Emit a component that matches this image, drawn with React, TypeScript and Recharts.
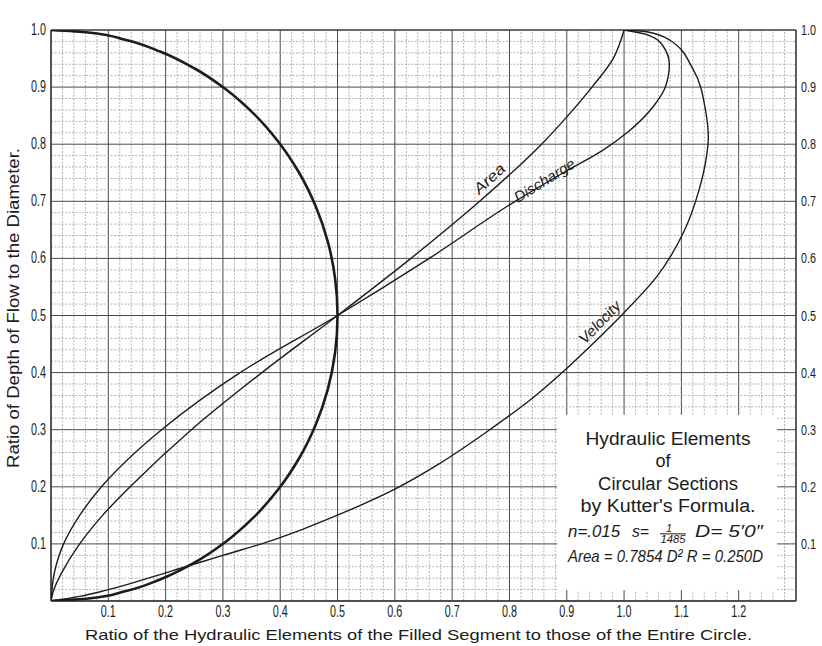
import React from "react";
import { ComposedChart, Line, XAxis, YAxis, ReferenceLine, ReferenceDot, Label } from "recharts";

// each point: [ratio of hydraulic element, ratio of depth]
const circle: [number, number][] = [
  [0, 0], [0.0653, 0.0043], [0.1294, 0.017], [0.1913, 0.0381], [0.25, 0.067],
  [0.3044, 0.1033], [0.3536, 0.1464], [0.3967, 0.1956], [0.433, 0.25],
  [0.4619, 0.3087], [0.483, 0.3706], [0.4957, 0.4347], [0.5, 0.5],
  [0.4957, 0.5653], [0.483, 0.6294], [0.4619, 0.6913], [0.433, 0.75],
  [0.3967, 0.8044], [0.3536, 0.8536], [0.3044, 0.8967], [0.25, 0.933],
  [0.1913, 0.9619], [0.1294, 0.983], [0.0653, 0.9957], [0, 1],
];

const area: [number, number][] = [
  [0, 0], [0.005, 0.02], [0.019, 0.05], [0.05, 0.1], [0.09, 0.15], [0.138, 0.2],
  [0.245, 0.3], [0.368, 0.4], [0.5, 0.5], [0.628, 0.6], [0.748, 0.7],
  [0.856, 0.8], [0.902, 0.85], [0.944, 0.9], [0.981, 0.95], [1.0, 1.0],
];

const discharge: [number, number][] = [
  [0, 0], [0.006, 0.05], [0.022, 0.1], [0.05, 0.15], [0.088, 0.2], [0.193, 0.3],
  [0.33, 0.4], [0.5, 0.5], [0.66, 0.6], [0.81, 0.7], [0.894, 0.75], [0.964, 0.79],
  [1.005, 0.82], [1.051, 0.866], [1.072, 0.9], [1.079, 0.94], [1.068, 0.972],
  [1.04, 0.992], [1.0, 1.0],
];

const velocity: [number, number][] = [
  [0, 0], [0.05, 0.008], [0.097, 0.019], [0.16, 0.037], [0.235, 0.06], [0.3, 0.08],
  [0.37, 0.101], [0.44, 0.126], [0.504, 0.152], [0.6, 0.196], [0.68, 0.242],
  [0.76, 0.296], [0.836, 0.352], [0.894, 0.402], [0.95, 0.455], [1.0, 0.505],
  [1.057, 0.568], [1.103, 0.644], [1.13, 0.717], [1.144, 0.78], [1.147, 0.81],
  [1.142, 0.86], [1.121, 0.93], [1.08, 0.982], [1.04, 0.997], [1.0, 1.0],
];

const xTicks = [0.1, 0.2, 0.3, 0.4, 0.5, 0.6, 0.7, 0.8, 0.9, 1.0, 1.1, 1.2];
const yTicks = [0.1, 0.2, 0.3, 0.4, 0.5, 0.6, 0.7, 0.8, 0.9, 1.0];

const curveLabels = [
  { text: "Area", x: 0.771, y: 0.733, angle: -43, len: 37 },
  { text: "Discharge", x: 0.866, y: 0.729, angle: -32, len: 69 },
  { text: "Velocity", x: 0.964, y: 0.482, angle: -46, len: 53 },
];

// white panel holding the title (data units)
const BOX = { x1: 0.883, x2: 1.267, y1: 0.019, y2: 0.326 };

const INK = "#1c1c1c";
const FONT = "'Liberation Sans', Arial, sans-serif";

// ordered from the top of the plot down so the curve is monotone in y
const toPts = (a: [number, number][]) => a.map(([r, d]) => ({ r, d })).reverse();

// grid every 0.02, heavier every 0.1
const gridX = Array.from({ length: 66 }, (_, i) => i);
const gridY = Array.from({ length: 51 }, (_, i) => i);

function vSegs(v: number) {
  if (v > BOX.x1 && v < BOX.x2) return [[0, BOX.y1], [BOX.y2, 1]];
  return [[0, 1]];
}
function hSegs(v: number) {
  if (v > BOX.y1 && v < BOX.y2) return [[0, BOX.x1], [BOX.x2, 1.3]];
  return [[0, 1.3]];
}

// hand-lettered looking tick numbers: tall and narrow
function Tick(props: any) {
  const { x, y, payload, orientation } = props;
  let dy = 0;
  let anchor = "middle";
  let size = 16;
  if (orientation === "bottom") dy = 8;
  if (orientation === "left") { anchor = "end"; dy = 5; }
  if (orientation === "right") { anchor = "start"; dy = 5; size = 14; }
  return (
    <text
      x={x}
      y={y + dy}
      textAnchor={anchor}
      fontSize={size}
      textLength={15}
      lengthAdjust="spacingAndGlyphs"
      fill={INK}
      fontFamily={FONT}
    >
      {Number(payload.value).toFixed(1)}
    </text>
  );
}

function TitleBlock(p: any) {
  const x = p.cx;
  const y = p.cy;
  const cx = x + 111;
  const common = { fill: INK, fontFamily: FONT, lengthAdjust: "spacingAndGlyphs" as const };
  return (
    <g>
      <text x={cx} y={y + 30} textAnchor="middle" fontSize={18} textLength={165} {...common}>Hydraulic Elements</text>
      <text x={cx - 5} y={y + 52} textAnchor="middle" fontSize={18} {...common}>of</text>
      <text x={cx} y={y + 75} textAnchor="middle" fontSize={18} textLength={140} {...common}>Circular Sections</text>
      <text x={cx} y={y + 97} textAnchor="middle" fontSize={18} textLength={175} {...common}>by Kutter's Formula.</text>
      <g fontStyle="italic">
        <text x={x + 11} y={y + 122} fontSize={17} textLength={52} {...common}>n=.015</text>
        <text x={x + 75} y={y + 122} fontSize={17} textLength={17} {...common}>s=</text>
        <text x={x + 112} y={y + 117} fontSize={11} textAnchor="middle" {...common}>1</text>
        <line x1={x + 103} x2={x + 129} y1={y + 119} y2={y + 119} stroke={INK} strokeWidth={1} />
        <text x={x + 116} y={y + 128} fontSize={10} textAnchor="middle" textLength={25} {...common}>1485</text>
        <text x={x + 138} y={y + 122} fontSize={17} textLength={68} {...common}>D= 5′0″</text>
        <text x={x + 11} y={y + 147} fontSize={17} textLength={195} {...common}>Area = 0.7854 D²  R = 0.250D</text>
      </g>
    </g>
  );
}

const curveLabel = (c: typeof curveLabels[number]) => (p: any) => (
  <text
    x={p.cx}
    y={p.cy}
    transform={`rotate(${c.angle} ${p.cx} ${p.cy})`}
    textAnchor="middle"
    fontStyle="italic"
    fontSize={15}
    textLength={c.len}
    lengthAdjust="spacingAndGlyphs"
    fill={INK}
    fontFamily={FONT}
  >
    {c.text}
  </text>
);

export default function App() {
  return (
    <div style={{ position: "absolute", left: 0, top: 0, background: "#fff" }}>
      <ComposedChart width={822} height={646} margin={{ top: 0, right: 0, bottom: 0, left: 0 }}>
        <XAxis
          xAxisId={0}
          type="number"
          dataKey="r"
          domain={[0, 1.3]}
          ticks={xTicks}
          interval={0}
          height={45}
          axisLine={false}
          tickLine={false}
          tick={<Tick orientation="bottom" />}
          allowDataOverflow
        >
          <Label
            content={(p: any) => (
              <text
                x={p.viewBox.x + 34}
                y={p.viewBox.y + 39}
                fontSize={15}
                textLength={667}
                lengthAdjust="spacingAndGlyphs"
                fill={INK}
                fontFamily={FONT}
              >
                Ratio of the Hydraulic Elements of the Filled Segment to those of the Entire Circle.
              </text>
            )}
          />
        </XAxis>
        <XAxis
          xAxisId="top"
          orientation="top"
          type="number"
          domain={[0, 1.3]}
          ticks={xTicks}
          interval={0}
          height={30}
          axisLine={false}
          tickLine={false}
          tickSize={3}
          tick={<Tick orientation="top" />}
          allowDataOverflow
        />
        <YAxis
          yAxisId={0}
          type="number"
          domain={[0, 1]}
          ticks={yTicks}
          interval={0}
          width={51}
          axisLine={false}
          tickLine={false}
          tickSize={3}
          tick={<Tick orientation="left" />}
          allowDataOverflow
        >
          <Label
            content={() => (
              <text
                x={19}
                y={308}
                transform="rotate(-90 19 308)"
                textAnchor="middle"
                fontSize={16}
                textLength={320}
                lengthAdjust="spacingAndGlyphs"
                fill={INK}
                fontFamily={FONT}
              >
                Ratio of Depth of Flow to the Diameter.
              </text>
            )}
          />
        </YAxis>
        <YAxis
          yAxisId="right"
          orientation="right"
          type="number"
          domain={[0, 1]}
          ticks={yTicks}
          interval={0}
          width={26}
          axisLine={false}
          tickLine={false}
          tickSize={3}
          tick={<Tick orientation="right" />}
          allowDataOverflow
        />

        {gridX.map((i) =>
          vSegs(i / 50).map(([a, b], k) => (
            <ReferenceLine
              key={`vx${i}-${k}`}
              segment={[{ x: i / 50, y: a }, { x: i / 50, y: b }]}
              stroke={i % 5 === 0 ? "#4a4a4a" : "#a0a0a0"}
              strokeWidth={i % 5 === 0 ? 1 : 0.8}
              strokeDasharray={i % 5 === 0 ? undefined : "2 1.5"}
            />
          ))
        )}
        {gridY.map((i) =>
          hSegs(i / 50).map(([a, b], k) => (
            <ReferenceLine
              key={`hy${i}-${k}`}
              segment={[{ x: a, y: i / 50 }, { x: b, y: i / 50 }]}
              stroke={i % 5 === 0 ? "#4a4a4a" : "#a0a0a0"}
              strokeWidth={i % 5 === 0 ? 1 : 0.8}
              strokeDasharray={i % 5 === 0 ? undefined : "2 1.5"}
            />
          ))
        )}
        <ReferenceLine segment={[{ x: 0, y: 0 }, { x: 0, y: 1 }]} stroke="#333" strokeWidth={1.4} />
        <ReferenceLine segment={[{ x: 1.3, y: 0 }, { x: 1.3, y: 1 }]} stroke="#333" strokeWidth={1.2} />
        <ReferenceLine segment={[{ x: 0, y: 0 }, { x: 1.3, y: 0 }]} stroke="#333" strokeWidth={1.4} />
        <ReferenceLine segment={[{ x: 0, y: 1 }, { x: 1.3, y: 1 }]} stroke="#333" strokeWidth={1.2} />

        <Line data={toPts(circle)} dataKey="d" type="monotoneY" stroke={INK} strokeWidth={2.6} dot={false} isAnimationActive={false} />
        <Line data={toPts(area)} dataKey="d" type="monotoneY" stroke={INK} strokeWidth={1.4} dot={false} isAnimationActive={false} />
        <Line data={toPts(discharge)} dataKey="d" type="monotoneY" stroke={INK} strokeWidth={1.4} dot={false} isAnimationActive={false} />
        <Line data={toPts(velocity)} dataKey="d" type="monotoneY" stroke={INK} strokeWidth={1.4} dot={false} isAnimationActive={false} />

        {curveLabels.map((c) => (
          <ReferenceDot key={c.text} x={c.x} y={c.y} r={0} shape={curveLabel(c)} />
        ))}
        <ReferenceDot x={BOX.x1} y={BOX.y2} r={0} shape={TitleBlock} />
      </ComposedChart>
    </div>
  );
}
